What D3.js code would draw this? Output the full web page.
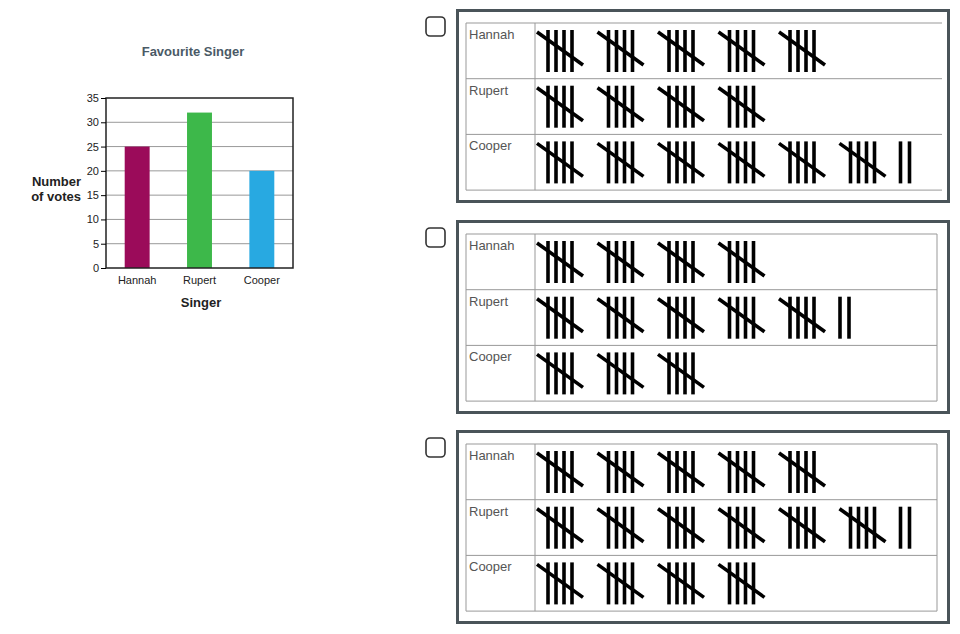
<!DOCTYPE html>
<html><head><meta charset="utf-8">
<script src="https://cdn.jsdelivr.net/npm/d3@7"></script>
<style>body{margin:0;background:#fff;font-family:Arial,"Liberation Sans",sans-serif}</style>
</head><body><svg id="c" width="960" height="634"></svg>
<script>
const singers = ["Hannah","Rupert","Cooper"];
const votes = [25,32,20];
const barColors = ["#9b0b5a","#3db84a","#28a9e1"];
const yTicks = [0,5,10,15,20,25,30,35];
const optionVotes = [[25,20,32],[20,27,15],[25,32,20]];

const svg = d3.select("#c");
// bar chart
const x = d3.scaleBand().domain(singers).range([106,293]).paddingInner(0.6).paddingOuter(0.3);
const y = d3.scaleLinear().domain([0,35]).range([268,98]);
const g = svg.append("g");
g.selectAll("line.grid").data(yTicks.slice(1,-1)).join("line")
 .attr("x1",106).attr("x2",293).attr("y1",d=>y(d)).attr("y2",d=>y(d)).attr("stroke","#999").attr("stroke-width",1);
g.selectAll("rect").data(votes).join("rect")
 .attr("x",(d,i)=>x(singers[i])).attr("width",x.bandwidth()).attr("y",d=>y(d)).attr("height",d=>y(0)-y(d))
 .attr("fill",(d,i)=>barColors[i]);
g.append("rect").attr("x",106).attr("y",98).attr("width",187).attr("height",170).attr("fill","none").attr("stroke","#222").attr("stroke-width",1.5);
const ya = g.append("g").attr("transform","translate(106,0)").call(d3.axisLeft(y).tickValues(yTicks).tickSize(5).tickPadding(2));
ya.select(".domain").remove();
ya.selectAll("text").attr("font-size",11).attr("fill","#222").attr("font-family","Arial");
const xa = g.append("g").attr("transform","translate(0,268)").call(d3.axisBottom(x).tickSize(0).tickPadding(8));
xa.select(".domain").remove();
xa.selectAll("text").attr("font-size",11).attr("fill","#222").attr("font-family","Arial");
svg.append("text").attr("x",193).attr("y",56).attr("text-anchor","middle").attr("font-size",13).attr("font-weight","bold").attr("fill","#4a5a66").text("Favourite Singer");
svg.append("text").attr("x",81).attr("y",186).attr("text-anchor","end").attr("font-size",13).attr("font-weight","bold").attr("fill","#222").text("Number");
svg.append("text").attr("x",81).attr("y",201).attr("text-anchor","end").attr("font-size",13).attr("font-weight","bold").attr("fill","#222").text("of votes");
svg.append("text").attr("x",201).attr("y",307).attr("text-anchor","middle").attr("font-size",13).attr("font-weight","bold").attr("fill","#222").text("Singer");

// options
const panelTops = [9,220,430];
optionVotes.forEach((vals,p)=>{
  const top = panelTops[p];
  const pg = svg.append("g").attr("transform",`translate(0,${top})`);
  pg.append("rect").attr("x",426).attr("y",8).attr("width",19).attr("height",19).attr("rx",4).attr("fill","#fff").attr("stroke","#333").attr("stroke-width",1.6);
  pg.append("rect").attr("x",457.5).attr("y",1.5).attr("width",491).attr("height",191).attr("fill","#fff").attr("stroke","#4a5459").attr("stroke-width",3);
  const tTop = p===0?14:14, rowH = 55.7, right = p===0?942:937;
  const ry = d3.scaleLinear().domain([0,3]).range([tTop,tTop+3*rowH]);
  [0,1,2,3].forEach(i=>pg.append("line").attr("x1",466).attr("x2",right).attr("y1",ry(i)).attr("y2",ry(i)).attr("stroke","#999"));
  pg.append("line").attr("x1",466).attr("x2",466).attr("y1",ry(0)).attr("y2",ry(3)).attr("stroke","#999");
  pg.append("line").attr("x1",535).attr("x2",535).attr("y1",ry(0)).attr("y2",ry(3)).attr("stroke","#999");
  if(p>0) pg.append("line").attr("x1",right).attr("x2",right).attr("y1",ry(0)).attr("y2",ry(3)).attr("stroke","#999");
  vals.forEach((v,r)=>{
    const rt = ry(r);
    pg.append("text").attr("x",469).attr("y",rt+16).attr("font-size",13).attr("fill","#555").text(singers[r]);
    const groups = Math.floor(v/5), rem = v%5;
    const gx = d3.scaleLinear().domain([0,1]).range([537,597.5]);
    for(let k=0;k<groups;k++){
      const x0 = gx(k);
      [11,19,27,35].forEach(dx=>pg.append("line").attr("x1",x0+dx).attr("x2",x0+dx).attr("y1",rt+7).attr("y2",rt+49).attr("stroke","#000").attr("stroke-width",3.6));
      pg.append("line").attr("x1",x0).attr("y1",rt+9).attr("x2",x0+46).attr("y2",rt+42).attr("stroke","#000").attr("stroke-width",3.6);
    }
    const sx = gx(groups)+(groups>=6?0:0);
    for(let k=0;k<rem;k++){
      const xx = gx(groups-1)+61+k*9;
      pg.append("line").attr("x1",xx).attr("x2",xx).attr("y1",rt+7).attr("y2",rt+49).attr("stroke","#000").attr("stroke-width",3.6);
    }
  });
});
</script></body></html>
